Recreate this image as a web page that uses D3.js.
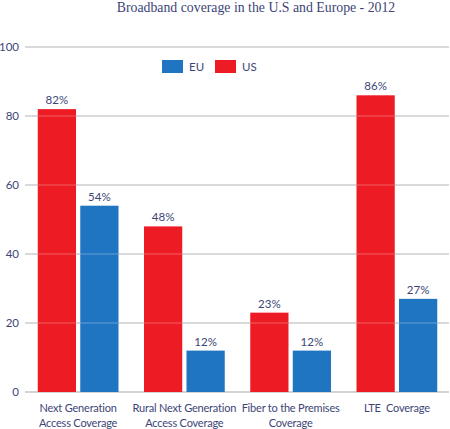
<!DOCTYPE html>
<html><head><meta charset="utf-8">
<script src="https://cdn.jsdelivr.net/npm/d3@7"></script>
<style>body{margin:0;background:#fff}</style>
</head><body>
<script>
const categories = [["Next Generation","Access Coverage"],["Rural Next Generation","Access Coverage"],["Fiber to the Premises","Coverage"],["LTE  Coverage"]];
const seriesNames = ["US","EU"];
const usValues = [82,48,23,86];
const euValues = [54,12,12,27];
const yTicks = [0,20,40,60,80,100];
const legendOrder = ["EU","US"];
const colors = {US:"#ed1c24", EU:"#1f75c1"};
const textColor = "#3d4577";

const W=450,H=429;
const svg=d3.select("body").append("svg").attr("width",W).attr("height",H);
const y=d3.scaleLinear().domain([0,100]).range([392,47]);
const x=d3.scaleBand().domain(d3.range(categories.length)).range([25,450]).paddingInner(0.24).paddingOuter(0.12);
const xs=d3.scaleBand().domain(seriesNames).range([0,x.bandwidth()]).paddingInner(0.1);
const font="Lato, 'Open Sans', sans-serif";

svg.append("text").attr("x",256).attr("y",12).attr("text-anchor","middle")
  .attr("font-family","'Liberation Serif', serif").attr("font-size",13.8).attr("fill",textColor)
  .text("Broadband coverage in the U.S and Europe - 2012");

const grid=svg.append("g");
yTicks.forEach(t=>{
  grid.append("line").attr("x1",25).attr("x2",449).attr("y1",y(t)).attr("y2",y(t)).attr("stroke","#a8a8a8").attr("stroke-width",1.2);
  svg.append("text").attr("x",19).attr("y",y(t)+4).attr("text-anchor","end").attr("font-family",font).attr("font-size",11.5).attr("fill",textColor).text(t);
});

const data=categories.map((c,i)=>({i, vals:{US:usValues[i],EU:euValues[i]}}));
const g=svg.selectAll("g.grp").data(data).enter().append("g").attr("transform",d=>`translate(${x(d.i)},0)`);
g.selectAll("rect").data(d=>seriesNames.map(s=>({s,v:d.vals[s]}))).enter().append("rect")
  .attr("x",d=>xs(d.s)).attr("width",xs.bandwidth()).attr("y",d=>y(d.v)).attr("height",d=>y(0)-y(d.v)).attr("fill",d=>colors[d.s]);
g.selectAll("text.v").data(d=>seriesNames.map(s=>({s,v:d.vals[s]}))).enter().append("text")
  .attr("x",d=>xs(d.s)+xs.bandwidth()/2).attr("y",d=>y(d.v)-5).attr("text-anchor","middle")
  .attr("font-family",font).attr("font-size",11.5).attr("fill",textColor).text(d=>d.v+"%");

// faint gridlines over bars
yTicks.slice(1).forEach(t=>{
  svg.append("line").attr("x1",25).attr("x2",449).attr("y1",y(t)).attr("y2",y(t)).attr("stroke","#fff").attr("stroke-opacity",0.3).attr("stroke-width",1);
});

// category labels
categories.forEach((c,i)=>{
  const t=svg.append("text").attr("text-anchor","middle").attr("font-family",font).attr("font-size",11)
    .attr("letter-spacing",-0.2).style("white-space","pre").attr("fill",textColor);
  c.forEach((line,j)=>t.append("tspan").attr("x",x(i)+x.bandwidth()/2).attr("y",412+j*15).text(line));
});

// legend
const lx={EU:162,US:215};
legendOrder.forEach(s=>{
  svg.append("rect").attr("x",lx[s]).attr("y",60).attr("width",21).attr("height",13).attr("fill",colors[s]);
  svg.append("text").attr("x",lx[s]+27).attr("y",71).attr("font-family",font).attr("font-size",11.5).attr("fill",textColor).text(s);
});
</script>
</body></html>
